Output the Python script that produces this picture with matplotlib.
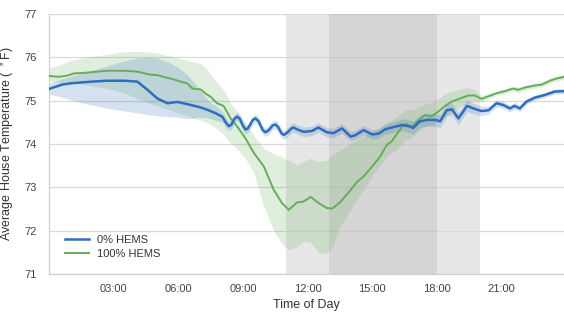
import matplotlib
matplotlib.use("Agg")
import matplotlib.pyplot as plt
from matplotlib.ticker import FixedLocator, FuncFormatter

# ---- data (hours of day, degrees F) ----
b_t = [0, 0.3, 0.6, 1.0, 1.5, 2.0, 2.7, 3.5, 4.1, 4.57, 5.03, 5.5, 5.96, 6.42, 7.0, 7.4,
       7.73, 8.04, 8.2, 8.35, 8.47, 8.6, 8.73, 8.86, 9.0, 9.12, 9.25, 9.45, 9.58, 9.72, 9.92,
       10.05, 10.2, 10.38, 10.5, 10.62, 10.8, 10.9, 11.05, 11.25, 11.36, 11.5, 11.82,
       12.2, 12.5, 12.9, 13.2, 13.6, 14.0, 14.2, 14.6, 15.0, 15.3, 15.6, 16.06, 16.4, 16.76,
       16.9, 17.2, 17.6, 18.0, 18.15, 18.46, 18.7, 19.0, 19.4, 19.7, 20.08, 20.4, 20.77,
       21.08, 21.4, 21.6, 21.85, 22.16, 22.55, 23.0, 23.47, 23.9]
b_mean = [75.27, 75.32, 75.37, 75.40, 75.42, 75.44, 75.46, 75.46, 75.44, 75.25, 75.05, 74.94,
          74.97, 74.92, 74.85, 74.78,
          74.71, 74.63, 74.50, 74.41, 74.45, 74.58, 74.63, 74.58, 74.42, 74.33, 74.37, 74.55,
          74.59, 74.53, 74.32, 74.27, 74.32, 74.43, 74.45, 74.40, 74.24, 74.21, 74.26, 74.36,
          74.38, 74.34, 74.28,
          74.30, 74.38, 74.27, 74.25, 74.36, 74.17, 74.20, 74.32, 74.22, 74.24, 74.34, 74.40,
          74.44, 74.40, 74.37, 74.52, 74.56, 74.55, 74.52, 74.78, 74.80, 74.59, 74.88, 74.82,
          74.76, 74.78, 74.94, 74.90, 74.82, 74.88, 74.82, 74.98, 75.07, 75.13, 75.21, 75.22]
b_lo = [75.15, 75.12, 75.08, 75.02, 74.95, 74.90, 74.83, 74.76, 74.72, 74.68, 74.65, 74.63,
        74.62, 74.58, 74.62, 74.60,
        74.55, 74.50, 74.38, 74.30, 74.34, 74.48, 74.53, 74.48, 74.32, 74.23, 74.27, 74.45,
        74.49, 74.43, 74.22, 74.17, 74.22, 74.33, 74.35, 74.30, 74.14, 74.11, 74.15, 74.25,
        74.27, 74.23, 74.17,
        74.19, 74.27, 74.16, 74.14, 74.25, 74.07, 74.10, 74.21, 74.11, 74.13, 74.23, 74.28,
        74.30, 74.26, 74.23, 74.38, 74.42, 74.40, 74.37, 74.64, 74.66, 74.45, 74.75, 74.70,
        74.65, 74.69, 74.86, 74.82, 74.74, 74.80, 74.75, 74.92, 75.01, 75.07, 75.15, 75.16]
b_hi = [75.40, 75.45, 75.50, 75.56, 75.63, 75.70, 75.80, 75.92, 75.98, 76.00, 75.98, 75.90,
        75.78, 75.60, 75.25, 75.00,
        74.88, 74.76, 74.62, 74.52, 74.56, 74.68, 74.73, 74.68, 74.52, 74.43, 74.47, 74.65,
        74.69, 74.63, 74.42, 74.37, 74.42, 74.53, 74.55, 74.50, 74.34, 74.31, 74.37, 74.47,
        74.49, 74.45, 74.39,
        74.41, 74.49, 74.38, 74.36, 74.47, 74.28, 74.31, 74.43, 74.33, 74.35, 74.45, 74.52,
        74.58, 74.55, 74.52, 74.66, 74.70, 74.70, 74.67, 74.92, 74.94, 74.73, 75.01, 74.94,
        74.87, 74.87, 75.02, 74.98, 74.90, 74.96, 74.89, 75.04, 75.13, 75.19, 75.27, 75.28]

g_t = [0, 0.46, 0.86, 1.17, 1.6, 2.7, 3.5, 4.1, 4.7, 5.03, 5.3, 5.8, 6.1, 6.42, 6.65, 7.04, 7.3,
       7.5, 7.8, 8.1, 8.43, 8.74, 9.12, 9.5, 9.97, 10.43, 10.82, 11.13, 11.5, 11.8, 12.15, 12.5,
       12.9, 13.15, 13.5, 14.0, 14.3, 14.6, 15.06, 15.37, 15.68, 15.9, 16.1, 16.45, 16.6, 16.84,
       17.15, 17.45, 17.76, 18.07, 18.38, 18.7, 19.07, 19.46, 19.77, 20.08, 20.38, 20.77, 21.16,
       21.54, 21.77, 22.08, 22.55, 22.86, 23.16, 23.47, 23.9]
g_mean = [75.57, 75.55, 75.58, 75.63, 75.64, 75.69, 75.69, 75.67, 75.60, 75.59, 75.55, 75.49,
          75.44, 75.40, 75.28, 75.26, 75.15, 75.09, 74.94, 74.88, 74.59, 74.40, 74.13, 73.80,
          73.48, 72.94, 72.63, 72.48, 72.65, 72.67, 72.78, 72.64, 72.52, 72.51, 72.65, 72.94,
          73.13, 73.25, 73.52, 73.71, 73.98, 74.06, 74.20, 74.44, 74.46, 74.40, 74.55, 74.67,
          74.64, 74.75, 74.88, 74.98, 75.05, 75.12, 75.12, 75.04, 75.10, 75.17, 75.22, 75.28,
          75.25, 75.30, 75.35, 75.37, 75.44, 75.50, 75.55]
g_lo = [75.45, 75.42, 75.40, 75.40, 75.38, 75.28, 75.18, 75.05, 74.93, 74.88, 74.83, 74.75,
        74.70, 74.65, 74.60, 74.55, 74.50, 74.45, 74.35, 74.22, 74.02, 73.88, 73.66, 73.35,
        72.55, 72.00, 71.68, 71.55, 71.63, 71.75, 71.72, 71.50, 71.47, 71.62, 72.10, 72.48,
        72.75, 72.94, 73.30, 73.50, 73.72, 73.80, 73.85, 74.05, 74.10, 74.15, 74.30, 74.40,
        74.42, 74.52, 74.62, 74.75, 74.85, 74.95, 75.00, 74.97, 75.04, 75.12, 75.16, 75.22,
        75.19, 75.24, 75.29, 75.31, 75.38, 75.44, 75.49]
g_hi = [75.75, 75.82, 75.90, 75.95, 75.99, 76.07, 76.13, 76.14, 76.12, 76.10, 76.06, 76.01,
        75.97, 75.93, 75.90, 75.86, 75.75, 75.62, 75.42, 75.25, 74.95, 74.75, 74.48, 74.20,
        73.90, 73.78, 73.70, 73.62, 73.52, 73.60, 73.67, 73.60, 73.63, 73.76, 73.85, 74.02,
        74.10, 74.18, 74.30, 74.38, 74.50, 74.56, 74.62, 74.75, 74.80, 74.78, 74.85, 74.92,
        74.95, 75.05, 75.15, 75.22, 75.27, 75.30, 75.25, 75.12, 75.16, 75.23, 75.28, 75.34,
        75.31, 75.36, 75.41, 75.43, 75.50, 75.56, 75.61]

series_labels = ["0% HEMS", "100% HEMS"]
peak_window = (11, 20)
core_window = (13, 18)
x_ticks = [3, 6, 9, 12, 15, 18, 21]
y_ticks = [71, 72, 73, 74, 75, 76, 77]

assert len(b_t) == len(b_mean) == len(b_lo) == len(b_hi)
assert len(g_t) == len(g_mean) == len(g_lo) == len(g_hi)

plt.rcParams['font.family'] = ['Liberation Sans', 'DejaVu Sans']

blue = "#2f6dbd"
green = "#66ad5a"

fig = plt.figure(figsize=(5.64, 3.13), dpi=100)
ax = fig.add_axes([49 / 564, 39 / 313, 515 / 564, 260 / 313])

ax.axvspan(*peak_window, color="#000000", alpha=0.095, lw=0, zorder=0.5)
ax.axvspan(*core_window, color="#000000", alpha=0.075, lw=0, zorder=0.6)

ax.fill_between(g_t, g_lo, g_hi, color=green, alpha=0.2, lw=0, zorder=1)
ax.fill_between(b_t, b_lo, b_hi, color=blue, alpha=0.2, lw=0, zorder=1.1)
ax.plot(g_t, g_mean, color=green, lw=1.4, label=series_labels[1], zorder=3)
ax.plot(b_t, b_mean, color=blue, lw=1.8, label=series_labels[0], zorder=3.1)

ax.set_xlim(0, 23.9)
ax.set_ylim(71, 77)
ax.xaxis.set_major_locator(FixedLocator(x_ticks))
ax.xaxis.set_major_formatter(FuncFormatter(lambda v, p: "%02d:00" % int(round(v))))
ax.set_yticks(y_ticks)
ax.yaxis.grid(True, color="#d9d9d9", lw=0.9, zorder=0.4)
ax.xaxis.grid(False)
ax.set_axisbelow(True)
for s in ["top", "right"]:
    ax.spines[s].set_visible(False)
for s in ["left", "bottom"]:
    ax.spines[s].set_color("#d0d0d0")
    ax.spines[s].set_linewidth(0.9)
ax.tick_params(axis="both", length=0, labelsize=8, colors="#444444")
ax.tick_params(axis="y", pad=9)
ax.tick_params(axis="x", pad=7)

ax.set_xlabel("Time of Day", fontsize=9, color="#333333", labelpad=4)
ax.set_ylabel(r"Average House Temperature ( $^\circ$F)", fontsize=9, color="#333333", labelpad=6)

h, l = ax.get_legend_handles_labels()
order = [l.index(series_labels[0]), l.index(series_labels[1])]
leg = ax.legend([h[i] for i in order], [l[i] for i in order], loc="lower left",
                bbox_to_anchor=(0.012, 0.02), frameon=False, fontsize=8,
                handlelength=2.1, handletextpad=0.8, labelspacing=0.35)
for t in leg.get_texts():
    t.set_color("#333333")

fig.savefig("out.png", dpi=100)
